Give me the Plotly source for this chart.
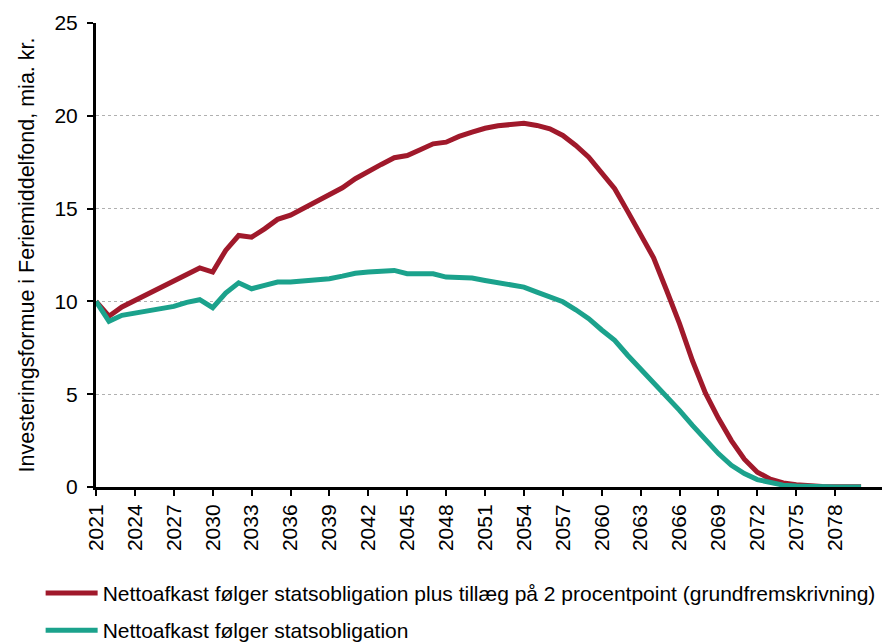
import plotly.graph_objects as go

years = list(range(2021, 2081))

red_values = [
    10.0, 9.2, 9.7, 10.05, 10.4, 10.75, 11.05, 11.45, 11.8, 11.58,
    12.75, 13.55, 13.46, 13.91, 14.42, 14.65, 15.0, 15.38, 15.71, 16.12,
    16.61, 16.96, 17.38, 17.74, 17.86, 18.17, 18.49, 18.58, 18.89, 19.12,
    19.33, 19.46, 19.5, 19.6, 19.48, 19.3, 18.94, 18.4, 17.77, 16.96,
    16.07, 14.85, 13.6, 12.35, 10.6, 8.8, 6.8, 5.05, 3.7, 2.5,
    1.5, 0.8, 0.42, 0.22, 0.12, 0.06, 0.03, 0.02, 0.01, 0.01,
]

teal_values = [
    10.0, 8.93, 9.25, 9.37, 9.48, 9.59, 9.73, 9.95, 10.09, 9.66,
    10.45, 11.0, 10.68, 10.86, 11.04, 11.04, 11.09, 11.18, 11.22, 11.36,
    11.52, 11.58, 11.65, 11.67, 11.49, 11.49, 11.49, 11.31, 11.31, 11.26,
    11.13, 10.99, 10.86, 10.77, 10.5, 10.27, 9.98, 9.55, 9.07, 8.46,
    7.9, 7.1, 6.37, 5.65, 4.85, 4.13, 3.32, 2.51, 1.8, 1.17,
    0.72, 0.4, 0.22, 0.1, 0.05, 0.02, 0.01, 0.0, 0.0, 0.0,
]

red_name = "Nettoafkast følger statsobligation plus tillæg på 2 procentpoint (grundfremskrivning)"
teal_name = "Nettoafkast følger statsobligation"
y_title = "Investeringsformue i Feriemiddelfond, mia. kr."

x_tickvals = list(range(2021, 2079, 3))
y_tickvals = [0, 5, 10, 15, 20, 25]

RED = "#A0192B"
TEAL = "#1BA28C"
FONT = "Liberation Sans, Arial, sans-serif"

fig = go.Figure()
fig.add_trace(go.Scatter(x=years, y=red_values, mode="lines", name=red_name,
                         legendgroup="a",
                         line=dict(color=RED, width=5)))
fig.add_trace(go.Scatter(x=years, y=teal_values, mode="lines", name=teal_name,
                         legendgroup="b",
                         line=dict(color=TEAL, width=5)))

# The page body adds an 8px offset, so the figure is sized to fit the window.
fig.update_layout(
    width=882, height=636,
    margin=dict(l=88, r=3, t=15, b=157, autoexpand=False),
    paper_bgcolor="white", plot_bgcolor="white",
    font=dict(family=FONT, size=20, color="black"),
    showlegend=True,
    legend=dict(
        x=-0.07, xanchor="left", y=-0.185, yanchor="top",
        orientation="v", traceorder="grouped", tracegroupgap=7,
        font=dict(size=21), bgcolor="rgba(0,0,0,0)",
        itemwidth=52,
    ),
)

fig.update_xaxes(
    range=[2021, 2082], tickmode="array", tickvals=x_tickvals,
    ticktext=[str(v) for v in x_tickvals], tickangle=-90,
    ticks="outside", ticklen=6, tickwidth=2, tickcolor="black",
    showline=True, linecolor="black", linewidth=3,
    showgrid=False, zeroline=False, automargin=False,
    tickfont=dict(size=21),
)
fig.update_yaxes(
    range=[0, 25], tickmode="array", tickvals=y_tickvals,
    ticks="outside", ticklen=6, tickwidth=2, tickcolor="black",
    showline=True, linecolor="black", linewidth=3,
    showgrid=True, gridcolor="#b0b0b0", griddash="dot", gridwidth=1,
    zeroline=False, automargin=False, ticklabelstandoff=5,
    title=dict(text=y_title, font=dict(size=21.5), standoff=14),
    tickfont=dict(size=21),
)

fig.write_html("out.html")
